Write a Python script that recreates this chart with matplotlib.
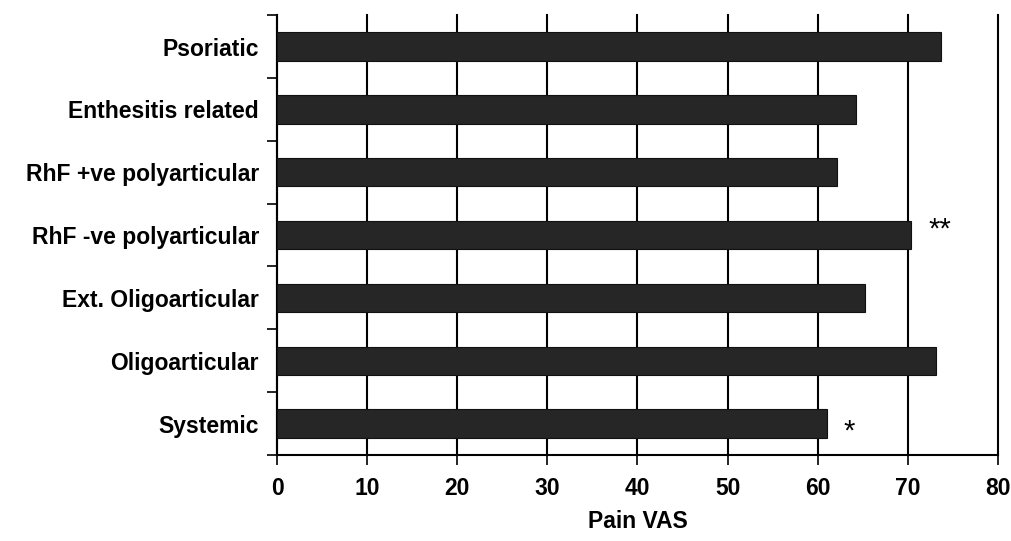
import matplotlib

matplotlib.use("Agg")
import matplotlib.pyplot as plt
from matplotlib.ticker import FixedLocator

# categories listed bottom to top
categories = [
    "Systemic",
    "Oligoarticular",
    "Ext. Oligoarticular",
    "RhF -ve polyarticular",
    "RhF +ve polyarticular",
    "Enthesitis related",
    "Psoriatic",
]
pain_vas = [61.0, 73.1, 65.2, 70.4, 62.1, 64.3, 73.7]
markers = ["*", "", "", "**", "", "", ""]
x_ticks = [0, 10, 20, 30, 40, 50, 60, 70, 80]

# vertical nudge of each significance mark relative to its bar
mark_nudge = {"*": -0.12, "**": 0.08}

plt.rcParams["font.family"] = ["Liberation Sans", "DejaVu Sans"]
plt.rcParams["font.weight"] = "bold"

fig = plt.figure(figsize=(10.11, 5.41), dpi=100)
ax = fig.add_axes([0.274, 0.159, 0.713, 0.813])

positions = list(range(len(categories)))
ax.barh(positions, pain_vas, height=0.45, color="#262626", edgecolor="#111111",
        linewidth=0.8, zorder=3)

for pos, val, mark in zip(positions, pain_vas, markers):
    if mark:
        ax.text(val + 1.9, pos + mark_nudge[mark], mark, ha="left", va="center",
                fontsize=21, fontweight="normal", color="black", zorder=4)

ax.set_xlim(0, 80)
ax.set_ylim(-0.5, len(categories) - 0.5)
ax.set_xticks(x_ticks)
ax.set_xticklabels([str(t) for t in x_ticks], fontsize=16.5, fontweight="bold")
ax.set_yticks(positions)
ax.set_yticklabels(categories, fontsize=16.5, fontweight="bold")
ax.tick_params(axis="y", which="major", length=0, pad=13)
ax.yaxis.set_minor_locator(FixedLocator([p - 0.5 for p in positions] + [len(categories) - 0.5]))
ax.tick_params(axis="y", which="minor", length=7, width=1.2, direction="out")
ax.tick_params(axis="x", which="major", length=7, width=1.2, direction="out", pad=9)

ax.grid(axis="x", color="black", linewidth=1.5, zorder=0)
for gl in ax.get_xgridlines():
    gl.set_clip_on(False)
ax.set_axisbelow(True)
for side in ("top", "right"):
    ax.spines[side].set_visible(False)
for side in ("left", "bottom"):
    ax.spines[side].set_linewidth(1.5)

ax.set_xlabel("Pain VAS", fontsize=16.5, fontweight="bold", labelpad=7)

fig.savefig("out.png", dpi=100)
plt.close(fig)
